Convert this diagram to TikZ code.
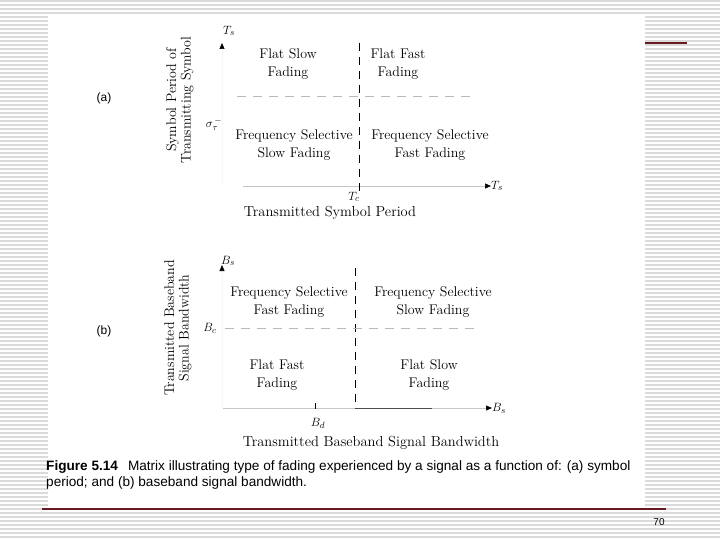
\documentclass[tikz,border=0pt]{standalone}
\usepackage{fontspec}
\newfontfamily\capfont{Liberation Sans}
\usetikzlibrary{arrows.meta,positioning}
\definecolor{stripegray}{RGB}{218,218,218}
\definecolor{slidered}{RGB}{105,25,35}

\begin{document}
\begin{tikzpicture}[x=1pt, y=-1pt, every node/.style={inner sep=0pt},
    cell/.style={align=center, font=\fontsize{14}{18.5}\selectfont},
    axislabel/.style={align=center, font=\fontsize{14.5}{15}\selectfont},
    sidelabel/.style={align=center, rotate=90, font=\fontsize{14}{14.5}\selectfont},
    sym/.style={font=\fontsize{13}{14}\selectfont},
    axis/.style={gray!45, line width=0.6pt, -{Triangle[length=6pt,width=5pt,black]}},
    faintaxis/.style={gray!6, line width=0.6pt, -{Triangle[length=6pt,width=5pt,black]}},
    vdiv/.style={black, line width=0.9pt, dash pattern=on 8pt off 6pt},
    hdiv/.style={gray!55, line width=0.9pt, dash pattern=on 9pt off 7pt}]
    % slide background
    \useasboundingbox (0,0) rectangle (720,540);
    \foreach \y in {1,5,...,537}
      \draw[stripegray, line width=1.1pt] (0,\y) -- (720,\y);
    \fill[white] (48,14) rectangle (645,506);
    \draw[slidered, line width=1.3pt] (42,509) -- (666,509);
    \draw[slidered, line width=1.3pt] (645,43) -- (687,43);
    \node[font=\capfont\fontsize{10}{12}\selectfont] (pagenum) at (659,522) {70};

    % (a) symbol period
    \node[font=\capfont\fontsize{12}{14}\selectfont] (lbla) at (104,98) {(a)};
    \node[sidelabel] (ylaba) at (180,100) {Symbol Period of\\Transmitting Symbol};
    \coordinate (oa) at (222,186);
    \coordinate (tipa) at (222,43);
    \node[sym] (tsy) at (229,31) {$T_s$};
    \node[sym, anchor=west] (tsx) at (491,186) {$T_s$};
    \draw[faintaxis] (oa) -- (tipa);
    \draw[axis] (243,186) -- (tsx.west);
    \draw[vdiv] (359,43) -- (359,192);
    \draw[hdiv] (237,96) -- (477,96);
    \node[sym] (sig) at (214,124) {$\sigma_{\tau}^{\,-}$};
    \node[sym] (tc) at (354,197) {$T_c$};
    \node[cell] (fsf) at (288,64) {Flat Slow\\Fading};
    \node[cell] (fff) at (398,64) {Flat Fast\\Fading};
    \node[cell] (fssf) at (294,145) {Frequency Selective\\Slow Fading};
    \node[cell] (fsff) at (430,145) {Frequency Selective\\Fast Fading};
    \node[axislabel] (xlaba) at (330,213) {Transmitted Symbol Period};

    % (b) baseband bandwidth
    \node[font=\capfont\fontsize{12}{14}\selectfont] (lblb) at (104,331) {(b)};
    \node[sidelabel] (ylabb) at (178,328) {Transmitted Baseband\\Signal Bandwidth};
    \coordinate (ob) at (222,408);
    \coordinate (tipb) at (222,265);
    \node[sym] (bsy) at (228,261) {$B_s$};
    \node[sym, anchor=west] (bsx) at (492,408) {$B_s$};
    \draw[faintaxis] (ob) -- (tipb);
    \draw[axis] (223,408) -- (bsx.west);
    \draw[black!70, line width=0.7pt] (355,408) -- (432,408);
    \draw[vdiv] (355,268) -- (355,408);
    \draw[hdiv] (225,328) -- (477,328);
    \node[sym] (bc) at (210,328) {$B_c$};
    \coordinate (bdtick) at (315,403);
    \draw[line width=0.8pt] (bdtick) -- ++(0,6);
    \node[sym] (bd) at (318,423) {$B_d$};
    \node[cell] (fsff2) at (289,302) {Frequency Selective\\Fast Fading};
    \node[cell] (fssf2) at (433,302) {Frequency Selective\\Slow Fading};
    \node[cell] (flff) at (277,375) {Flat Fast\\Fading};
    \node[cell] (flsf) at (429,375) {Flat Slow\\Fading};
    \node[axislabel] (xlabb) at (371,443) {Transmitted Baseband Signal Bandwidth};

    % caption
    \node[anchor=north west, align=left, font=\capfont\fontsize{13.6}{16}\selectfont] (cap) at (46,460)
      {\textbf{Figure 5.14}\hspace{10pt}Matrix illustrating type of fading experienced by a signal as a function of: (a) symbol\\
       period; and (b) baseband signal bandwidth.};
\end{tikzpicture}
\end{document}
